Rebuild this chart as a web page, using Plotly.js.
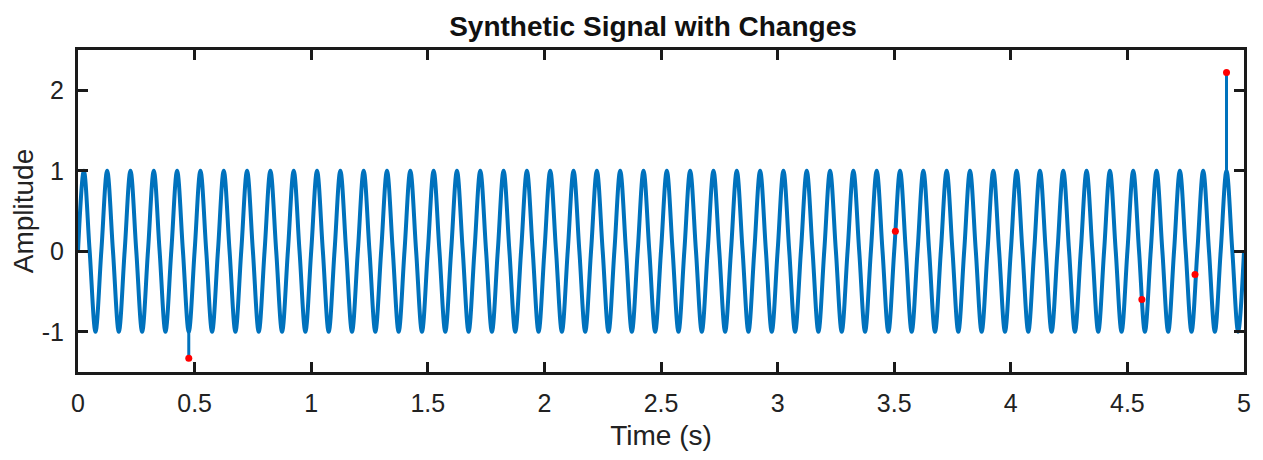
<!DOCTYPE html>
<html>
<head>
<meta charset="utf-8">
<script src="https://cdn.plot.ly/plotly-3.0.1.min.js"></script>
<style>
  html, body { margin: 0; padding: 0; background: #ffffff; }
  #chart { width: 1263px; height: 460px; }
</style>
</head>
<body>
<div id="chart"></div>
<script>
// Sample times (s), read at quarter-period spacing of the 10 Hz wave
var time = [
  0,0.025,0.05,0.075,0.1,0.125,0.15,0.175,0.2,0.225,0.25,0.275,0.3,0.325,0.35,0.375,0.4,0.425,0.45,0.475,
  0.5,0.525,0.55,0.575,0.6,0.625,0.65,0.675,0.7,0.725,0.75,0.775,0.8,0.825,0.85,0.875,0.9,0.925,0.95,0.975,
  1,1.025,1.05,1.075,1.1,1.125,1.15,1.175,1.2,1.225,1.25,1.275,1.3,1.325,1.35,1.375,1.4,1.425,1.45,1.475,
  1.5,1.525,1.55,1.575,1.6,1.625,1.65,1.675,1.7,1.725,1.75,1.775,1.8,1.825,1.85,1.875,1.9,1.925,1.95,1.975,
  2,2.025,2.05,2.075,2.1,2.125,2.15,2.175,2.2,2.225,2.25,2.275,2.3,2.325,2.35,2.375,2.4,2.425,2.45,2.475,
  2.5,2.525,2.55,2.575,2.6,2.625,2.65,2.675,2.7,2.725,2.75,2.775,2.8,2.825,2.85,2.875,2.9,2.925,2.95,2.975,
  3,3.025,3.05,3.075,3.1,3.125,3.15,3.175,3.2,3.225,3.25,3.275,3.3,3.325,3.35,3.375,3.4,3.425,3.45,3.475,
  3.5,3.525,3.55,3.575,3.6,3.625,3.65,3.675,3.7,3.725,3.75,3.775,3.8,3.825,3.85,3.875,3.9,3.925,3.95,3.975,
  4,4.025,4.05,4.075,4.1,4.125,4.15,4.175,4.2,4.225,4.25,4.275,4.3,4.325,4.35,4.375,4.4,4.425,4.45,4.475,
  4.5,4.525,4.55,4.575,4.6,4.625,4.65,4.675,4.7,4.725,4.75,4.775,4.8,4.825,4.85,4.875,4.9,4.925,4.95,4.975,
  5
];
// Amplitude at those times (zero, peak, zero, trough ...)
var amplitude = [
  0,1,0,-1,0,1,0,-1,0,1,0,-1,0,1,0,-1,0,1,0,-1,
  0,1,0,-1,0,1,0,-1,0,1,0,-1,0,1,0,-1,0,1,0,-1,
  0,1,0,-1,0,1,0,-1,0,1,0,-1,0,1,0,-1,0,1,0,-1,
  0,1,0,-1,0,1,0,-1,0,1,0,-1,0,1,0,-1,0,1,0,-1,
  0,1,0,-1,0,1,0,-1,0,1,0,-1,0,1,0,-1,0,1,0,-1,
  0,1,0,-1,0,1,0,-1,0,1,0,-1,0,1,0,-1,0,1,0,-1,
  0,1,0,-1,0,1,0,-1,0,1,0,-1,0,1,0,-1,0,1,0,-1,
  0,1,0,-1,0,1,0,-1,0,1,0,-1,0,1,0,-1,0,1,0,-1,
  0,1,0,-1,0,1,0,-1,0,1,0,-1,0,1,0,-1,0,1,0,-1,
  0,1,0,-1,0,1,0,-1,0,1,0,-1,0,1,0,-1,0,1,0,-1,
  0
];
// Changed samples (red markers)
var changeTimes  = [0.475, 3.505, 4.562, 4.79, 4.925];
var changeValues = [-1.33, 0.25, -0.6, -0.29, 2.22];

var xTickVals   = [0,0.5,1,1.5,2,2.5,3,3.5,4,4.5,5];
var xTickLabels = ['0','0.5','1','1.5','2','2.5','3','3.5','4','4.5','5'];
var yTickVals   = [-1,0,1,2];
var yTickLabels = ['-1','0','1','2'];

var BLUE = '#0072BD';
var FONT = 'Liberation Sans, Arial, Helvetica, sans-serif';

var traces = [{
  x: time, y: amplitude, type: 'scatter', mode: 'lines',
  line: {color: BLUE, width: 4, shape: 'spline', smoothing: 1},
  hoverinfo: 'skip', showlegend: false
}];

// vertical jumps where a changed sample falls on a sampled instant
changeTimes.forEach(function (t, i) {
  var idx = -1;
  for (var k = 0; k < time.length; k++) { if (Math.abs(time[k] - t) < 1e-9) { idx = k; break; } }
  if (idx >= 0) {
    traces.push({
      x: [t, t], y: [amplitude[idx], changeValues[i]], type: 'scatter', mode: 'lines',
      line: {color: BLUE, width: 3}, hoverinfo: 'skip', showlegend: false
    });
  }
});

traces.push({
  x: changeTimes, y: changeValues, type: 'scatter', mode: 'markers',
  marker: {color: '#ff0000', size: 7}, showlegend: false
});

var axisCommon = {
  showline: true, linecolor: '#1a1a1a', linewidth: 3, mirror: 'ticks',
  ticks: 'inside', ticklen: 10, tickwidth: 3, tickcolor: '#1a1a1a',
  showgrid: false, zeroline: false,
  tickfont: {family: FONT, size: 25, color: '#222'}
};

var layout = {
  width: 1263, height: 460,
  paper_bgcolor: '#ffffff', plot_bgcolor: '#ffffff',
  margin: {l: 78, r: 19, t: 50, b: 88},
  title: {
    text: '<b>Synthetic Signal with Changes</b>',
    font: {family: FONT, size: 28, color: '#111'},
    xref: 'container', x: 0.517, xanchor: 'center',
    yref: 'container', y: 0.943, yanchor: 'middle'
  },
  xaxis: Object.assign({}, axisCommon, {
    range: [0, 5], tickvals: xTickVals, ticktext: xTickLabels,
    ticklabelstandoff: 7,
    title: {text: 'Time (s)', font: {family: FONT, size: 28, color: '#222'}, standoff: 10}
  }),
  yaxis: Object.assign({}, axisCommon, {
    range: [-1.5, 2.5], tickvals: yTickVals, ticktext: yTickLabels,
    ticklabelstandoff: 6,
    title: {text: 'Amplitude', font: {family: FONT, size: 28, color: '#222'}, standoff: 0}
  }),
  showlegend: false
};

Plotly.newPlot('chart', traces, layout, {displayModeBar: false, staticPlot: true});
</script>
</body>
</html>
